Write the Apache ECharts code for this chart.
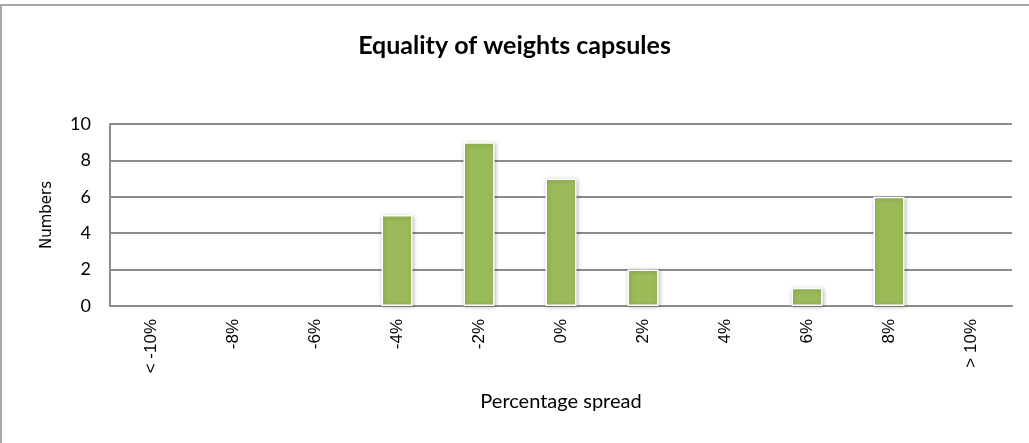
<!DOCTYPE html>
<html><head><meta charset="utf-8">
<script src="https://cdn.jsdelivr.net/npm/echarts@6/dist/echarts.min.js"></script>
<style>html,body{margin:0;padding:0;background:#fff}#c{width:1029px;height:443px}</style>
</head><body><div id="c"></div>
<script>
const categories = ['< -10%','-8%','-6%','-4%','-2%','0%','2%','4%','6%','8%','> 10%'];
const counts = [0,0,0,5,9,7,2,0,1,6,0];
const yTicks = [0,2,4,6,8,10];

const chart = echarts.init(document.getElementById('c'), null, {renderer:'canvas'});
chart.setOption({
  animation:false,
  backgroundColor:'#fff',
  graphic:[{type:'rect',shape:{x:1,y:5,width:1040,height:450},style:{fill:'none',stroke:'#8c8c8c',lineWidth:1.5},silent:true}],
  title:{text:'Equality of weights capsules',left:'center',top:28,textStyle:{fontFamily:'Lato',fontWeight:'bold',fontSize:25,color:'#000'}},
  grid:{left:110,right:17,top:124,bottom:137,containLabel:false},
  xAxis:{type:'category',data:categories,
    axisLine:{show:true,lineStyle:{color:'#8c8c8c',width:2}},
    axisTick:{show:false},
    axisLabel:{rotate:90,margin:13,fontFamily:'Liberation Sans',fontSize:17,color:'#000',interval:0},
    name:'Percentage spread',nameLocation:'middle',nameGap:86,
    nameTextStyle:{fontFamily:'Lato',fontSize:20,color:'#000'}},
  yAxis:{type:'value',min:0,max:10,interval:2,
    axisLine:{show:true,lineStyle:{color:'#8c8c8c',width:2}},
    axisTick:{show:false},
    splitLine:{lineStyle:{color:'#8c8c8c',width:2}},
    axisLabel:{margin:19,fontFamily:'Lato',fontSize:18,color:'#000',
      formatter:v=>yTicks.includes(v)?String(v):''},
    name:'Numbers',nameLocation:'middle',nameGap:55,nameRotate:90,
    nameTextStyle:{fontFamily:'DejaVu Sans',fontSize:15,color:'#000'}},
  series:[{type:'bar',barWidth:31,
    data:counts.map(v=>v===0?{value:v,itemStyle:{borderWidth:0,shadowBlur:0,shadowOffsetX:0,shadowOffsetY:0,color:'rgba(0,0,0,0)'}}:v),
    itemStyle:{color:'#9bbb59',borderColor:'#fff',borderWidth:1.5,
      shadowColor:'rgba(0,0,0,0.25)',shadowBlur:4,shadowOffsetX:1,shadowOffsetY:1}}]
});
</script></body></html>
